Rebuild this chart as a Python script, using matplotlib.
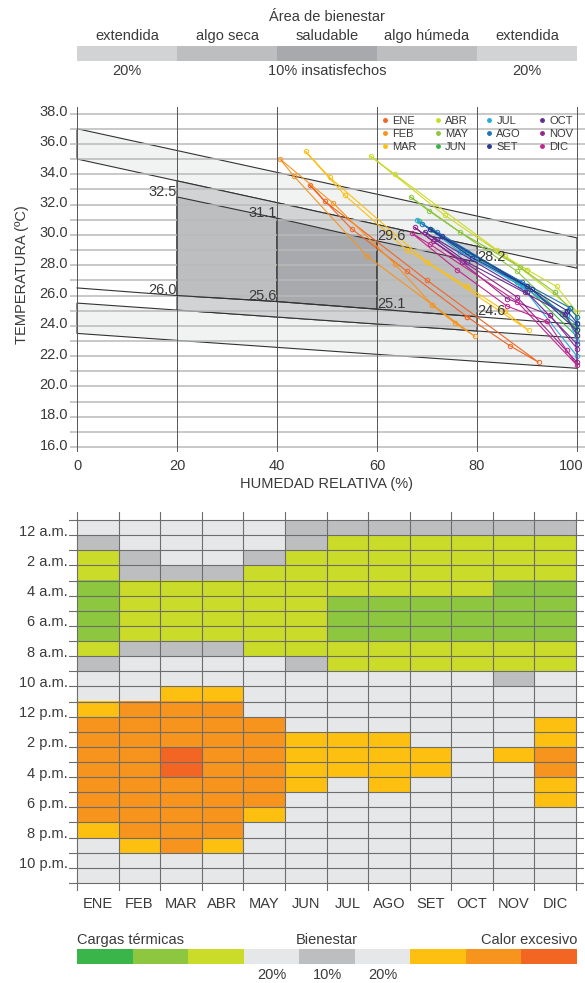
import numpy as np
import matplotlib.pyplot as plt
import matplotlib.transforms as mtransforms
from matplotlib.lines import Line2D
from matplotlib.patches import Polygon
from matplotlib.colors import ListedColormap, BoundaryNorm

plt.rcParams['font.family'] = ['Liberation Sans', 'DejaVu Sans']
TXT = '#3a3a3a'
W, H = 585, 983

# ---------------- data ----------------
months = ['ENE', 'FEB', 'MAR', 'ABR', 'MAY', 'JUN', 'JUL', 'AGO', 'SET', 'OCT', 'NOV', 'DIC']
month_colors = ['#f26522', '#f7941d', '#fdc010', '#cbdb2a', '#8dc63f', '#39b54a',
                '#27aae1', '#1c75bc', '#2b3990', '#662d91', '#92278f', '#c2268f']

# comfort zone lines (RH %, temperature C)
rh_band = [0, 100]
t_band_up_top = [37.0, 29.8]
t_band_up_bot = [35.0, 27.8]
t_band_lo_top = [25.5, 23.2]
t_band_lo_bot = [23.5, 21.2]
rh_zone = [20, 40, 60, 80]
t_zone_top = [32.5, 31.1, 29.6, 28.2]
t_zone_bot = [26.0, 25.6, 25.1, 24.6]
rh_line_d = [0, 20, 40, 60, 80, 100]
t_line_d = [26.5, 26.0, 25.6, 25.1, 24.6, 24.1]

zone_names = ['extendida', 'algo seca', 'saludable', 'algo húmeda', 'extendida']
zone_colors = ['#d1d3d4', '#bcbec0', '#a7a9ac', '#bcbec0', '#d1d3d4']

# daily cycles, 3-hourly (0h, 3h, ... 21h)
rh_month = {
    'ENE': [78.0, 86.5, 92.3, 70.0, 49.6, 46.5, 54.9, 66.0],
    'FEB': [71.0, 75.5, 79.6, 58.0, 43.3, 40.6, 51.2, 63.5],
    'MAR': [78.0, 85.5, 90.3, 70.0, 50.5, 45.7, 53.6, 66.0],
    'ABR': [90.0, 95.9, 100.0, 84.0, 63.5, 58.7, 73.5, 85.5],
    'MAY': [95.6, 100.0, 100.0, 88.0, 70.3, 66.7, 76.5, 88.5],
    'JUN': [97.0, 100.0, 100.0, 90.0, 71.0, 68.3, 77.0, 88.0],
    'JUL': [98.0, 100.0, 100.0, 89.0, 70.5, 68.0, 76.5, 88.5],
    'AGO': [98.5, 100.0, 100.0, 90.0, 72.0, 69.0, 78.0, 89.0],
    'SET': [98.0, 100.0, 100.0, 91.0, 73.0, 70.5, 79.0, 90.0],
    'OCT': [97.5, 100.0, 100.0, 90.0, 72.0, 69.5, 78.0, 89.5],
    'NOV': [94.6, 100.0, 100.0, 88.0, 71.1, 67.5, 76.9, 86.0],
    'DIC': [94.0, 97.9, 100.0, 88.0, 70.5, 67.0, 76.0, 86.0],
}
t_month = {
    'ENE': [24.6, 22.7, 21.6, 27.0, 32.2, 33.3, 30.4, 27.6],
    'FEB': [25.4, 24.2, 23.3, 28.6, 33.9, 35.0, 32.1, 28.1],
    'MAR': [26.6, 25.0, 23.7, 28.2, 33.8, 35.5, 32.6, 29.0],
    'ABR': [27.7, 26.6, 24.9, 29.0, 34.0, 35.2, 31.3, 28.6],
    'MAY': [26.2, 24.6, 23.8, 27.6, 31.6, 32.5, 30.2, 27.9],
    'JUN': [24.8, 23.8, 23.3, 26.5, 30.3, 30.9, 29.0, 26.9],
    'JUL': [24.7, 23.0, 22.0, 26.6, 30.4, 31.0, 28.9, 26.7],
    'AGO': [25.2, 24.6, 24.1, 26.6, 30.2, 30.7, 28.9, 26.9],
    'SET': [25.0, 24.2, 23.7, 26.4, 29.9, 30.4, 28.5, 26.6],
    'OCT': [24.8, 23.4, 22.8, 26.2, 29.7, 30.2, 28.2, 26.2],
    'NOV': [24.7, 22.5, 21.6, 25.9, 29.6, 30.5, 28.2, 25.8],
    'DIC': [24.3, 22.4, 21.4, 25.6, 29.4, 30.1, 27.7, 25.3],
}

# hourly thermal load categories (rows: hour 0-23, cols: months)
# 0 bienestar 20%, 1 bienestar 10%, 2-4 cargas termicas, 5-7 calor excesivo
carga = [
    [0, 0, 0, 0, 0, 1, 1, 1, 1, 1, 1, 1],
    [1, 0, 0, 0, 0, 1, 2, 2, 2, 2, 2, 2],
    [2, 1, 0, 0, 1, 2, 2, 2, 2, 2, 2, 2],
    [2, 1, 1, 1, 2, 2, 2, 2, 2, 2, 2, 2],
    [3, 2, 2, 2, 2, 2, 2, 2, 2, 2, 3, 3],
    [3, 2, 2, 2, 2, 2, 3, 3, 3, 3, 3, 3],
    [3, 2, 2, 2, 2, 2, 3, 3, 3, 3, 3, 3],
    [3, 2, 2, 2, 2, 2, 3, 3, 3, 3, 3, 3],
    [2, 1, 1, 1, 2, 2, 2, 2, 2, 2, 2, 2],
    [1, 0, 0, 0, 0, 1, 2, 2, 2, 2, 2, 2],
    [0, 0, 0, 0, 0, 0, 0, 0, 0, 0, 1, 0],
    [0, 0, 5, 5, 0, 0, 0, 0, 0, 0, 0, 0],
    [5, 6, 6, 6, 0, 0, 0, 0, 0, 0, 0, 0],
    [6, 6, 6, 6, 6, 0, 0, 0, 0, 0, 0, 5],
    [6, 6, 6, 6, 6, 5, 5, 5, 0, 0, 0, 5],
    [6, 6, 7, 6, 6, 5, 5, 5, 5, 0, 5, 6],
    [6, 6, 7, 6, 6, 5, 5, 5, 5, 0, 0, 6],
    [6, 6, 6, 6, 6, 5, 0, 5, 0, 0, 0, 5],
    [6, 6, 6, 6, 6, 0, 0, 0, 0, 0, 0, 5],
    [6, 6, 6, 6, 5, 0, 0, 0, 0, 0, 0, 0],
    [5, 6, 6, 6, 0, 0, 0, 0, 0, 0, 0, 0],
    [0, 5, 6, 5, 0, 0, 0, 0, 0, 0, 0, 0],
    [0, 0, 0, 0, 0, 0, 0, 0, 0, 0, 0, 0],
    [0, 0, 0, 0, 0, 0, 0, 0, 0, 0, 0, 0],
]
carga_colors = ['#e6e7e8', '#bcbec0', '#cbdb2a', '#8dc63f', '#39b54a',
                '#fdc010', '#f7941d', '#f26522']
hour_labels = ['12 a.m.', '2 a.m.', '4 a.m.', '6 a.m.', '8 a.m.', '10 a.m.',
               '12 p.m.', '2 p.m.', '4 p.m.', '6 p.m.', '8 p.m.', '10 p.m.']
key_order = [4, 3, 2, 0, 1, 0, 5, 6, 7]


def box(x0, y0, x1, y1):
    return [x0 / W, 1 - y1 / H, (x1 - x0) / W, (y1 - y0) / H]


fig = plt.figure(figsize=(W / 100, H / 100), dpi=100)
px = lambda dx, dy: mtransforms.ScaledTranslation(dx / 100, dy / 100, fig.dpi_scale_trans)

# ---------------- top key: area de bienestar ----------------
kx = fig.add_axes(box(77, 46, 577, 61))
kx.barh(0, [20] * 5, left=[0, 20, 40, 60, 80], color=zone_colors, height=1, align='edge')
kx.set_xlim(0, 100)
kx.set_ylim(0, 1)
kx.axis('off')
fig.text(327 / W, 1 - 17 / H, 'Área de bienestar', ha='center', va='center', fontsize=10.5, color=TXT)
for i, name in enumerate(zone_names):
    fig.text((127 + 100 * i) / W, 1 - 36 / H, name, ha='center', va='center', fontsize=10.5, color=TXT)
fig.text(127 / W, 1 - 71 / H, '20%', ha='center', va='center', fontsize=10.5, color=TXT)
fig.text(327 / W, 1 - 71 / H, '10% insatisfechos', ha='center', va='center', fontsize=10.5, color=TXT)
fig.text(527 / W, 1 - 71 / H, '20%', ha='center', va='center', fontsize=10.5, color=TXT)

# ---------------- psychrometric-like chart ----------------
ax = fig.add_axes(box(69.5, 106.7, 584.5, 451.7))
ax.set_xlim(-1.5, 101.5)
ax.set_ylim(15.7, 38.45)
for s in ax.spines.values():
    s.set_visible(False)

edge = dict(edgecolor='#333333', linewidth=0.8)
ax.add_patch(Polygon(list(zip(rh_band, t_band_up_top)) + list(zip(rh_band[::-1], t_band_up_bot[::-1])),
                     facecolor='#f1f2f2', zorder=1, **edge))
ax.add_patch(Polygon(list(zip(rh_band, t_band_lo_top)) + list(zip(rh_band[::-1], t_band_lo_bot[::-1])),
                     facecolor='#f1f2f2', zorder=1, **edge))
b_top = np.interp([20, 80], rh_band, t_band_up_bot)
b_bot = np.interp([20, 80], rh_band, t_band_lo_top)
ax.add_patch(Polygon([(20, b_top[0]), (80, b_top[1]), (80, b_bot[1]), (20, b_bot[0])],
                     facecolor=zone_colors[0], zorder=1, **edge))
for i in range(3):
    pts = [(rh_zone[i], t_zone_top[i]), (rh_zone[i + 1], t_zone_top[i + 1]),
           (rh_zone[i + 1], t_zone_bot[i + 1]), (rh_zone[i], t_zone_bot[i])]
    ax.add_patch(Polygon(pts, facecolor=zone_colors[i + 1], zorder=1, **edge))
ax.plot(rh_line_d, t_line_d, color='#333333', lw=0.8, zorder=3)

for t in range(16, 39):
    ax.axhline(t, color='#b9b9b9', lw=1.1, zorder=2)
for r in range(0, 101, 20):
    ax.axvline(r, color='#555555', lw=0.7, zorder=2)

for i in range(4):
    ha = 'right' if i < 2 else 'left'
    ax.text(rh_zone[i], t_zone_top[i] + 0.35, f'{t_zone_top[i]:.1f}', ha=ha, va='center',
            fontsize=10.5, color=TXT, zorder=6)
    ax.text(rh_zone[i], t_zone_bot[i] + 0.35, f'{t_zone_bot[i]:.1f}', ha=ha, va='center',
            fontsize=10.5, color=TXT, zorder=6)

for m, c in zip(months, month_colors):
    xs = rh_month[m] + rh_month[m][:1]
    ys = t_month[m] + t_month[m][:1]
    ax.plot(xs, ys, color=c, lw=0.8, marker='o', ms=3.2, mfc='none', mew=0.7, zorder=5)

handles = [Line2D([], [], color=c, marker='o', ls='none', ms=2.5) for c in month_colors]
ax.legend(handles, months, ncol=4, loc='upper left', bbox_to_anchor=(0.595, 0.99),
          frameon=False, fontsize=8, handlelength=0.6, handletextpad=0.35,
          columnspacing=1.6, labelspacing=0.3, borderpad=0, labelcolor=TXT)

ax.set_yticks(range(16, 39, 2))
ax.set_yticklabels([f'{v:.1f}' for v in range(16, 39, 2)])
ax.set_xticks(range(0, 101, 20))
ax.tick_params(length=0, labelsize=10.5, labelcolor=TXT)
ax.tick_params(axis='y', pad=1)
ax.tick_params(axis='x', pad=5)
for lab in ax.get_yticklabels():
    lab.set_transform(lab.get_transform() + px(0, 3))
last = ax.get_xticklabels()[-1]
last.set_transform(last.get_transform() + px(-6, 0))
ax.set_xlabel('HUMEDAD RELATIVA (%)', fontsize=10.5, color=TXT, labelpad=3)
fig.text(22 / W, 1 - 275 / H, 'TEMPERATURA (ºC)', rotation=90, ha='center', va='center',
         fontsize=10.5, color=TXT)

# ---------------- hourly heatmap ----------------
hx = fig.add_axes(box(69, 512, 584, 891))
cmap = ListedColormap(carga_colors)
norm = BoundaryNorm(np.arange(-0.5, 8.5, 1), cmap.N)
hx.imshow(np.array(carga), cmap=cmap, norm=norm, extent=(0, 12, 24, 0),
          aspect='auto', interpolation='nearest', zorder=1)
hx.set_xlim(-0.19, 12.19)
hx.set_ylim(24.53, -0.53)
for s in hx.spines.values():
    s.set_visible(False)
for r in range(25):
    hx.axhline(r, color='#6d6d6d', lw=0.8, zorder=2)
for c in range(13):
    hx.axvline(c, color='#6d6d6d', lw=0.8, zorder=2)
hx.set_xticks(np.arange(12) + 0.5)
hx.set_xticklabels(months)
hx.set_yticks(np.arange(0, 24, 2) + 0.5)
hx.set_yticklabels(hour_labels)
hx.tick_params(length=0, labelsize=10.5, labelcolor=TXT)
hx.tick_params(axis='y', pad=1)
hx.tick_params(axis='x', pad=4)
for lab in hx.get_yticklabels():
    lab.set_transform(lab.get_transform() + px(0, -2.5))

# ---------------- bottom key ----------------
bx = fig.add_axes(box(77, 949, 577, 964))
bx.barh(0, [1] * 9, left=np.arange(9), color=[carga_colors[k] for k in key_order],
        height=1, align='edge')
bx.set_xlim(0, 9)
bx.set_ylim(0, 1)
bx.axis('off')
fig.text(77 / W, 1 - 940 / H, 'Cargas térmicas', ha='left', va='center', fontsize=10.5, color=TXT)
fig.text(327 / W, 1 - 940 / H, 'Bienestar', ha='center', va='center', fontsize=10.5, color=TXT)
fig.text(577 / W, 1 - 940 / H, 'Calor excesivo', ha='right', va='center', fontsize=10.5, color=TXT)
for xc, lab in zip([272, 327, 383], ['20%', '10%', '20%']):
    fig.text(xc / W, 1 - 975 / H, lab, ha='center', va='center', fontsize=10.5, color=TXT)

fig.savefig('out.png', dpi=100)
